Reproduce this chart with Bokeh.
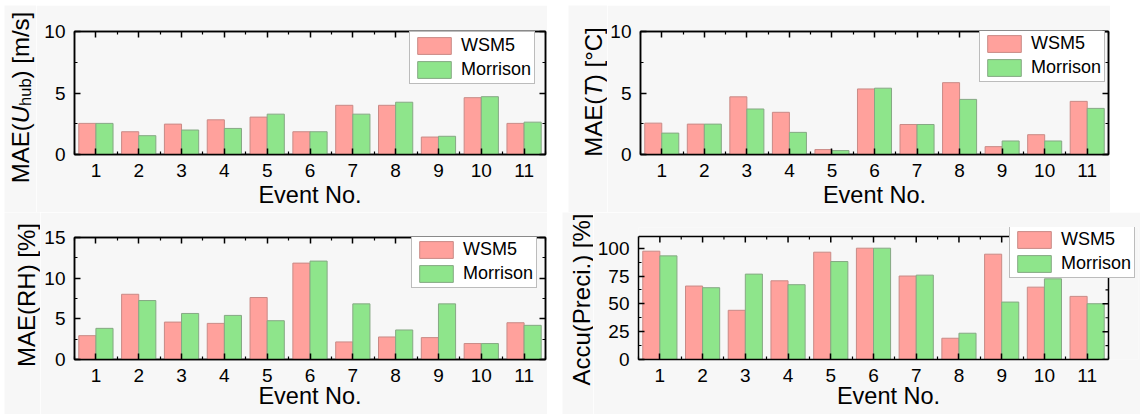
import math
from bokeh.plotting import figure
from bokeh.layouts import row, column, Spacer
from bokeh.models import (ColumnDataSource, Range1d, FixedTicker, LinearAxis,
                          CustomJSTickFormatter)
from bokeh.core.properties import value
from bokeh.transform import dodge
from bokeh.embed import file_html
from bokeh.resources import INLINE

# ---------------- data ----------------
events = list(range(1, 12))
series_names = ["WSM5", "Morrison"]
x_title = "Event No."

u_wsm5 = [2.53, 1.85, 2.47, 2.82, 3.04, 1.85, 4.00, 4.00, 1.42, 4.62, 2.53]
u_morr = [2.53, 1.53, 1.99, 2.12, 3.28, 1.85, 3.28, 4.25, 1.48, 4.70, 2.63]

t_wsm5 = [2.55, 2.47, 4.69, 3.43, 0.40, 5.33, 2.44, 5.84, 0.64, 1.61, 4.32]
t_morr = [1.74, 2.47, 3.70, 1.80, 0.32, 5.39, 2.44, 4.48, 1.10, 1.10, 3.75]

rh_wsm5 = [2.93, 8.02, 4.60, 4.44, 7.62, 11.85, 2.16, 2.77, 2.69, 1.96, 4.52]
rh_morr = [3.83, 7.25, 5.66, 5.42, 4.77, 12.10, 6.84, 3.63, 6.84, 1.96, 4.20]

pr_wsm5 = [97.3, 66.0, 44.2, 70.7, 96.4, 100.0, 75.0, 19.1, 94.6, 65.0, 56.7]
pr_morr = [93.1, 64.5, 76.7, 67.2, 88.0, 100.0, 75.8, 23.6, 51.6, 72.5, 50.1]

x_minor = [e - 0.5 for e in events] + [events[-1] + 0.5]

# ---------------- style ----------------
FONT = "Liberation Sans"
WSM5_FILL = "#ffa19c"
WSM5_LINE = "#c98a86"
MORR_FILL = "#8ee58b"
MORR_LINE = "#86a884"
BG = "#f7f7f7"
BASELINE_FIX = 8.5   # rendered rotated text sits this much right of its anchor

ARIAL = {'M': 833, 'A': 667, 'E': 667, '(': 333, ')': 333, 'U': 722, 'h': 556,
         'u': 556, 'b': 556, ' ': 278, '[': 278, ']': 278, 'm': 833, '/': 278,
         's': 500, 'T': 611, '°': 400, 'C': 722, 'R': 722, 'H': 722, '%': 889,
         'c': 500, 'P': 667, 'r': 333, 'e': 556, 'i': 222, '.': 278}


def tw(s, size):
    return sum(ARIAL.get(ch, 556) for ch in s) * size / 1000.0


def style_axis(ax, labels):
    ax.axis_line_color = "black"
    ax.axis_line_width = 1.5
    ax.major_tick_in = 6
    ax.major_tick_out = 0
    ax.minor_tick_in = 3
    ax.minor_tick_out = 0
    ax.major_tick_line_width = 1.5
    ax.minor_tick_line_width = 1.2
    ax.axis_label = None
    if labels:
        ax.major_label_text_font = FONT
        ax.major_label_text_font_size = "19px"
        ax.major_label_text_color = "black"
        ax.major_label_standoff = 9
    else:
        ax.formatter = CustomJSTickFormatter(code="return ''")
        ax.major_label_text_font_size = "1px"
        ax.major_label_standoff = 0


def title_fig(width, height, parts, base_x, center_y_from_top):
    """Narrow figure holding a rotated y-axis title (1 data unit = 1 px)."""
    t = figure(width=width, height=height, x_range=Range1d(0, width),
               y_range=Range1d(0, height), toolbar_location=None,
               output_backend="svg", x_axis_type=None, y_axis_type=None,
               min_border=0, frame_align=False)
    t.grid.visible = False
    t.outline_line_color = None
    t.border_fill_color = BG
    t.background_fill_color = BG
    size, sub = 24, 16.5
    total = sum(tw(txt, sub if k == "sub" else size) for txt, k in parts)
    ypos = (height - center_y_from_top) - total / 2.0
    bx = base_x - BASELINE_FIX
    for txt, k in parts:
        fs = sub if k == "sub" else size
        t.text(x=[bx + (4 if k == "sub" else 0)], y=[ypos], text=[txt],
               angle=math.pi / 2, text_align="left", text_baseline="alphabetic",
               text_font=value(FONT), text_font_size=value(f"{fs}px"),
               text_font_style="italic" if k == "italic" else "normal",
               text_color="black")
        ypos += tw(txt, fs)
    return t


def make_panel(width, height, bl, bt, bb, br, y_end, y_ticks, y_minor,
               wsm5, morr, legend_xy, title_standoff, ext=None):
    # ext = (extra_px_right, extra_px_top, frame_w, frame_h): frame enlarged so that
    # the legend may sit outside the drawn axes box; box drawn by segments.
    if ext is None:
        xr = Range1d(0.5, 11.5)
        yr = Range1d(0, y_end)
    else:
        ex, ey, fw, fh = ext
        xpp = 11.0 / fw
        ypp = y_end / fh
        xr = Range1d(0.5, 11.5 + ex * xpp)
        yr = Range1d(0, y_end + ey * ypp)
    p = figure(width=width, height=height, x_range=xr, y_range=yr,
               toolbar_location=None, output_backend="svg",
               min_border_left=bl, min_border_top=bt,
               min_border_bottom=bb, min_border_right=br, frame_align=False)
    p.xaxis.visible = False
    p.yaxis.visible = False
    p.grid.visible = False
    p.border_fill_color = BG
    p.background_fill_color = BG

    src = ColumnDataSource(dict(x=events, wsm5=wsm5, morr=morr))
    p.vbar(x=dodge('x', -0.2, range=p.x_range), top='wsm5', width=0.4, source=src,
           fill_color=WSM5_FILL, line_color=WSM5_LINE, line_width=1,
           legend_label=series_names[0])
    p.vbar(x=dodge('x', 0.2, range=p.x_range), top='morr', width=0.4, source=src,
           fill_color=MORR_FILL, line_color=MORR_LINE, line_width=1,
           legend_label=series_names[1])

    xt = FixedTicker(ticks=events, minor_ticks=x_minor)
    yt = FixedTicker(ticks=y_ticks, minor_ticks=y_minor)

    bx = LinearAxis(ticker=xt)
    style_axis(bx, True)
    bx.axis_label = x_title
    bx.axis_label_text_font = FONT
    bx.axis_label_text_font_size = "23.5px"
    bx.axis_label_text_font_style = "normal"
    bx.axis_label_text_color = "black"
    bx.axis_label_standoff = title_standoff
    p.add_layout(bx, "below")
    ly = LinearAxis(ticker=yt)
    style_axis(ly, True)
    p.add_layout(ly, "left")

    if ext is None:
        p.outline_line_color = "black"
        p.outline_line_width = 1.5
        tx = LinearAxis(ticker=xt)
        style_axis(tx, False)
        p.add_layout(tx, "above")
        ry = LinearAxis(ticker=yt)
        style_axis(ry, False)
        p.add_layout(ry, "right")
    else:
        p.outline_line_color = None
        bx.bounds = (0.5, 11.5)
        ly.bounds = (0, y_end)
        # top and right edges of the axes box with inward ticks
        p.segment(x0=[0.5, 11.5], y0=[y_end, 0], x1=[11.5, 11.5], y1=[y_end, y_end],
                  line_color="black", line_width=1.5)
        p.segment(x0=events, y0=[y_end] * len(events), x1=events,
                  y1=[y_end - 6 * ypp] * len(events), line_color="black", line_width=1.5)
        p.segment(x0=x_minor, y0=[y_end] * len(x_minor), x1=x_minor,
                  y1=[y_end - 3 * ypp] * len(x_minor), line_color="black", line_width=1.2)
        p.segment(x0=[11.5] * len(y_ticks), y0=y_ticks, x1=[11.5 - 6 * xpp] * len(y_ticks),
                  y1=y_ticks, line_color="black", line_width=1.5)
        p.segment(x0=[11.5] * len(y_minor), y0=y_minor, x1=[11.5 - 3 * xpp] * len(y_minor),
                  y1=y_minor, line_color="black", line_width=1.2)

    leg = p.legend[0]
    leg.location = legend_xy
    leg.label_text_font = FONT
    leg.label_text_font_size = "18px"
    leg.label_text_color = "black"
    leg.glyph_width = 42
    leg.glyph_height = 21
    leg.label_height = 21
    leg.label_standoff = 6
    leg.spacing = 3
    leg.padding = 3
    leg.margin = 0
    leg.border_line_color = "#7a7a7a"
    leg.border_line_width = 1
    leg.background_fill_color = "white"
    leg.background_fill_alpha = 1.0
    return p


# ---- row 1 (top 5 .. 212) ----
H1 = 207
t1 = title_fig(32, H1, [("MAE(", "n"), ("U", "italic"), ("hub", "sub"), (") [m/s]", "n")],
               24.5, 97 - 5)
p1 = make_panel(511, H1, 38, 26, 58, 2, 10, [0, 5, 10], [2.5, 7.5], u_wsm5, u_morr,
                (335, 70), 2)
t2 = title_fig(39, H1, [("MAE(", "n"), ("T", "italic"), (") [°C]", "n")],
               33, 91.5 - 5)
p2 = make_panel(503, H1, 32, 26, 58, 2, 10, [0, 5, 10], [2.5, 7.5], t_wsm5, t_morr,
                (339, 72), 2)

# ---- row 2 (212 .. 414) ----
H2 = 202
t3 = title_fig(36, H2, [("MAE(RH) [%]", "n")], 30, 294.5 - 212)
p3 = make_panel(507, H2, 34, 25, 55, 2, 15, [0, 5, 10, 15], [2.5, 7.5, 12.5],
                rh_wsm5, rh_morr, (337, 71), -2)
t4 = title_fig(31, H2, [("Accu(Preci.) [%]", "n")], 27, 299 - 212)
p4 = make_panel(547, H2, 45, 15, 55, 2, 110.5, [0, 25, 50, 75, 100],
                [12.5, 37.5, 62.5, 87.5], pr_wsm5, pr_morr, (371, 81), -2,
                ext=(30, 9, 470, 123))

layout = column(Spacer(height=5),
                row(Spacer(width=4), t1, p1, Spacer(width=21), t2, p2),
                row(Spacer(width=4), t3, p3, Spacer(width=15), t4, p4))

open("out.html", "w").write(file_html(layout, INLINE))
